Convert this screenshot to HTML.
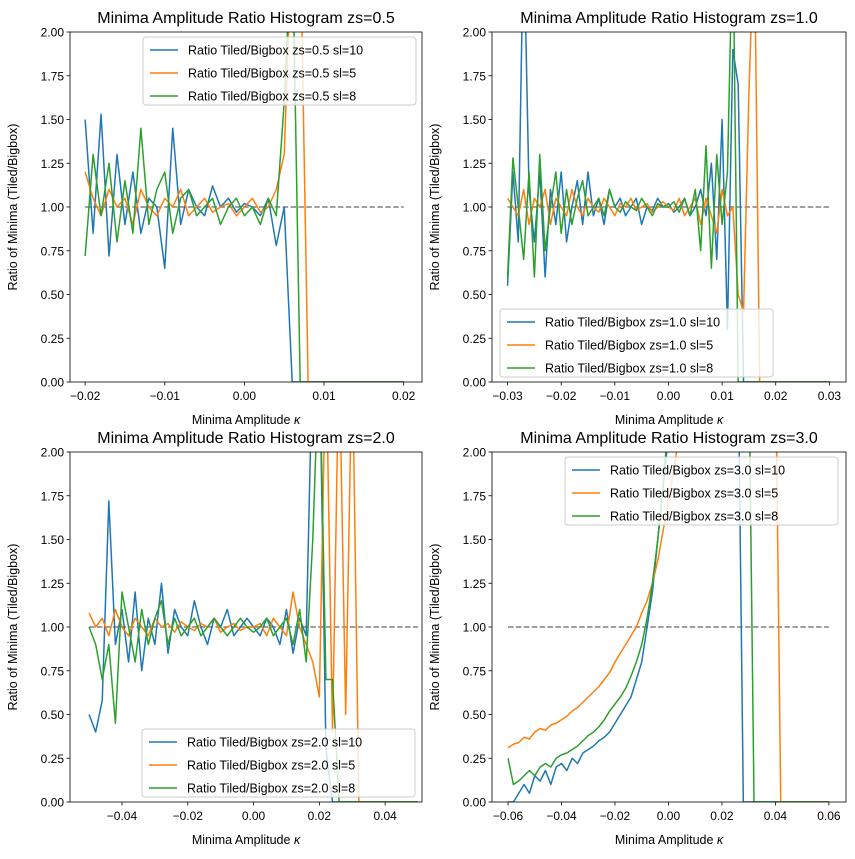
<!DOCTYPE html>
<html><head><meta charset="utf-8">
<style>
html,body{margin:0;padding:0;background:#fff;}
svg{display:block;font-family:"Liberation Sans","DejaVu Sans",sans-serif;}
</style></head>
<body>
<svg id="fig" width="855" height="859" viewBox="0 0 855 859" xmlns="http://www.w3.org/2000/svg"></svg>
<script>
// ---- data ----
const seriesNames = ["sl=10","sl=5","sl=8"];
const panelZs = ["0.5","1.0","2.0","3.0"];
const xStart = [-0.02,-0.03,-0.05,-0.06];
const xStep = [0.001,0.001,0.002,0.002];
const yTicks = [0,0.25,0.5,0.75,1.0,1.25,1.5,1.75,2.0];
const xTicks0 = [-0.02,-0.01,0.0,0.01,0.02];
const xTicks1 = [-0.03,-0.02,-0.01,0.0,0.01,0.02,0.03];
const xTicks2 = [-0.04,-0.02,0.0,0.02,0.04];
const xTicks3 = [-0.06,-0.04,-0.02,0.0,0.02,0.04,0.06];
const refRange0 = [-0.02,0.02];
const refRange1 = [-0.03,0.03];
const refRange2 = [-0.05,0.05];
const refRange3 = [-0.06,0.06];

const p0blue = [1.5,0.85,1.53,0.72,1.3,0.9,1.2,0.85,1.05,1.0,0.65,1.45,0.9,1.1,1.0,0.95,1.12,1.0,1.05,0.97,1.02,1.0,0.95,1.05,0.78,1.0,0,0,0,0,0,0,0,0,0,0,0,0,0,0,0];
const p0orange = [1.2,1.05,0.95,1.1,1.0,1.05,0.9,1.1,1.0,0.95,1.05,1.0,1.1,0.95,1.0,1.05,0.97,1.0,1.02,0.95,1.0,1.05,0.97,1.0,1.1,1.3,2.6,2.6,0,0,0,0,0,0,0,0,0,0,0,0,0];
const p0green = [0.72,1.3,0.95,1.25,0.8,1.15,0.85,1.45,0.9,1.1,1.2,0.85,1.05,1.1,0.95,1.0,1.05,0.9,1.0,1.05,0.95,1.0,0.9,1.05,0.95,1.6,2.6,0,0,0,0,0,0,0,0,0,0,0,0,0,0];

const p1blue = [0.55,1.2,0.8,2.6,1.1,0.8,1.2,0.6,1.1,0.9,1.2,0.8,1.0,1.15,0.9,1.2,0.95,1.05,0.9,1.1,1.0,1.05,0.95,1.0,1.05,0.9,1.0,0.98,1.05,1.0,1.02,0.97,1.0,1.05,0.95,1.0,1.1,0.95,1.25,0.7,1.5,0.3,1.9,1.7,0,0,0,0,0,0,0,0,0,0,0,0,0,0,0,0,0];
const p1orange = [1.05,1.0,0.95,1.1,0.9,1.05,1.0,1.1,0.9,1.05,1.0,0.95,1.1,1.0,0.95,1.05,1.0,0.97,1.05,1.0,0.95,1.02,1.0,1.05,0.98,1.0,1.02,0.97,1.0,1.03,1.0,0.98,1.05,0.95,1.0,1.05,0.9,1.05,0.95,0.85,1.1,0.95,1.0,0.5,0.4,1.65,2.6,0,0,0,0,0,0,0,0,0,0,0,0,0,0];
const p1green = [0.6,1.28,1.0,0.7,1.2,0.6,1.3,0.75,1.0,1.2,0.85,1.1,0.9,1.05,1.15,0.95,1.0,1.05,0.95,1.1,1.0,0.97,1.03,1.0,0.98,1.05,1.0,0.95,1.02,1.0,1.0,1.03,0.97,1.05,0.95,1.1,0.75,1.35,0.65,1.3,0.9,1.2,2.6,0,0,0,0,0,0,0,0,0,0,0,0,0,0,0,0,0,0];

const p2blue = [0.5,0.4,0.58,1.72,0.9,1.1,0.8,1.2,0.75,1.05,0.9,1.25,0.85,1.1,1.0,0.95,1.15,1.0,0.9,1.05,1.0,1.1,0.95,1.0,1.05,1.0,0.95,1.05,1.0,0.9,1.1,0.85,1.05,0.95,2.6,2.6,0.3,0,0,0,0,0,0,0,0,0,0,0,0,0,0];
const p2orange = [1.08,1.0,1.05,0.95,1.1,1.0,0.95,1.05,1.0,0.95,1.05,1.0,1.02,0.97,1.03,1.0,0.98,1.02,1.0,1.05,0.97,1.0,1.02,0.98,1.0,1.0,1.02,0.95,1.05,1.0,0.95,1.2,1.0,0.9,0.8,0.6,2.6,0.4,2.6,0.5,2.6,0,0,0,0,0,0,0,0,0,0];
const p2green = [1.0,0.9,0.7,0.9,0.45,1.2,1.0,0.8,1.1,0.9,1.05,1.15,0.9,1.05,0.95,1.0,1.05,0.95,1.0,1.05,1.0,0.95,1.0,1.05,1.0,0.97,1.0,1.05,0.95,1.0,1.05,0.9,1.1,0.8,1.5,2.6,0.7,0.7,0,0,0,0,0,0,0,0,0,0,0,0,0];

const p3blue = [0,0,0.05,0.1,0.05,0.15,0.12,0.18,0.1,0.2,0.22,0.18,0.25,0.22,0.28,0.3,0.32,0.35,0.37,0.4,0.45,0.5,0.55,0.6,0.7,0.8,1.0,1.2,1.5,1.8,2.1,2.6,2.6,2.6,2.6,2.6,2.6,2.6,2.6,2.6,2.6,2.6,2.6,2.6,0,0,0,0,0,0,0,0,0,0,0,0,0,0,0,0,0];
const p3orange = [0.31,0.33,0.34,0.37,0.36,0.4,0.42,0.41,0.44,0.45,0.47,0.49,0.52,0.54,0.57,0.6,0.63,0.66,0.7,0.74,0.8,0.85,0.9,0.95,1.0,1.08,1.15,1.25,1.38,1.55,1.72,1.9,2.1,2.6,2.6,2.6,2.6,2.6,2.6,2.6,2.6,2.6,2.6,2.6,2.6,2.6,2.6,2.6,2.6,2.6,2.6,0,0,0,0,0,0,0,0,0,0];
const p3green = [0.25,0.1,0.12,0.15,0.18,0.15,0.2,0.22,0.2,0.25,0.27,0.28,0.3,0.32,0.35,0.38,0.4,0.43,0.47,0.52,0.56,0.6,0.65,0.72,0.8,0.9,1.05,1.25,1.5,1.8,2.2,2.6,2.6,2.6,2.6,2.6,2.6,2.6,2.6,2.6,2.6,2.6,2.6,2.6,2.6,2.6,0,0,0,0,0,0,0,0,0,0,0,0,0,0,0];

// ---- layout ----
const NS="http://www.w3.org/2000/svg";
const svg=document.getElementById('fig');
const colors=["#1f77b4","#ff7f0e","#2ca02c"];
const panels=[
 {x0:70,x1:422,y0:32,y1:382,xmin:-0.0219,xmax:0.0223,ticks:xTicks0,ref:refRange0,data:[p0blue,p0orange,p0green],leg:[143,37]},
 {x0:492,x1:846,y0:32,y1:382,xmin:-0.0329,xmax:0.0331,ticks:xTicks1,ref:refRange1,data:[p1blue,p1orange,p1green],leg:[500,309]},
 {x0:70,x1:422,y0:452,y1:802,xmin:-0.0558,xmax:0.0512,ticks:xTicks2,ref:refRange2,data:[p2blue,p2orange,p2green],leg:[142,729]},
 {x0:492,x1:846,y0:452,y1:802,xmin:-0.0660,xmax:0.0664,ticks:xTicks3,ref:refRange3,data:[p3blue,p3orange,p3green],leg:[565,457]}
];
function mk(tag,attrs,parent){const e=document.createElementNS(NS,tag);for(const k in attrs)e.setAttribute(k,attrs[k]);(parent||svg).appendChild(e);return e;}
function fmtX(v,d){let s=v.toFixed(d);if(Math.abs(v)<1e-12)s=(0).toFixed(d);return s.replace('-','\u2212');}

panels.forEach((p,pi)=>{
  const g=mk('g',{});
  
  
  const X=v=>p.x0+(v-p.xmin)/(p.xmax-p.xmin)*(p.x1-p.x0);
  const Y=v=>p.y1-(v/2)*(p.y1-p.y0);
  const cid='clip'+pi;
  const cp=mk('clipPath',{id:cid},g);
  mk('rect',{x:p.x0,y:p.y0,width:p.x1-p.x0,height:p.y1-p.y0},cp);
  const ref=mk('line',{x1:X(p.ref[0]),x2:X(p.ref[1]),y1:Y(1),y2:Y(1),stroke:'#808080','stroke-width':1.5,'stroke-dasharray':'5.5,2.4'},g);
  
  
  p.data.forEach((arr,si)=>{
    const pts=arr.map((v,i)=>X(xStart[pi]+i*xStep[pi]).toFixed(2)+','+Y(v).toFixed(2)).join(' ');
    const pl=mk('polyline',{points:pts,fill:'none',stroke:colors[si],'stroke-width':1.5,'clip-path':'url(#'+cid+')','stroke-linejoin':'round'},g);
    
    
  });
  const fr=mk('rect',{x:p.x0,y:p.y0,width:p.x1-p.x0,height:p.y1-p.y0,fill:'none',stroke:'#000','stroke-width':0.8},g);
  
  
  yTicks.forEach(t=>{
    mk('line',{x1:p.x0-3.5,x2:p.x0,y1:Y(t),y2:Y(t),stroke:'#000','stroke-width':0.8},g);
    const tx=mk('text',{x:p.x0-6,y:Y(t)+4.5,'font-size':12,'text-anchor':'end',fill:'#000'},g);
    tx.textContent=t.toFixed(2);
    
    
  });
  p.ticks.forEach(t=>{
    mk('line',{x1:X(t),x2:X(t),y1:p.y1,y2:p.y1+3.5,stroke:'#000','stroke-width':0.8},g);
    const tx=mk('text',{x:X(t),y:p.y1+18,'font-size':12,'text-anchor':'middle',fill:'#000'},g);
    tx.textContent=fmtX(t,2);
    
    
  });
  const xl=mk('text',{x:(p.x0+p.x1)/2,y:p.y1+42,'font-size':12.5,'text-anchor':'middle'},g);
  xl.innerHTML='Minima Amplitude <tspan font-style="italic">κ</tspan>';
  
  
  const yx=p.x0-53, yy=(p.y0+p.y1)/2;
  const yl=mk('text',{x:yx,y:yy,'font-size':12.5,'text-anchor':'middle',transform:'rotate(-90 '+yx+' '+yy+')'},g);
  yl.textContent='Ratio of Minima (Tiled/Bigbox)';
  
  
  const ti=mk('text',{x:(p.x0+p.x1)/2,y:p.y0-9,'font-size':16,'text-anchor':'middle'},g);
  ti.textContent='Minima Amplitude Ratio Histogram zs='+panelZs[pi];
  
  
  const [lx,ly]=p.leg;
  const lg=mk('g',{},g);
  
  
  mk('rect',{x:lx,y:ly,width:273,height:68,rx:3,fill:'#fff','fill-opacity':0.8,stroke:'#ccc','stroke-width':1},lg);
  seriesNames.forEach((s,si)=>{
    const cy=ly+13+si*23;
    mk('line',{x1:lx+7,x2:lx+35,y1:cy,y2:cy,stroke:colors[si],'stroke-width':1.5},lg);
    const t=mk('text',{x:lx+45,y:cy+4.5,'font-size':12.5},lg);
    t.textContent='Ratio Tiled/Bigbox zs='+panelZs[pi]+' '+s;
    
    
  });
});
</script>
</body></html>
